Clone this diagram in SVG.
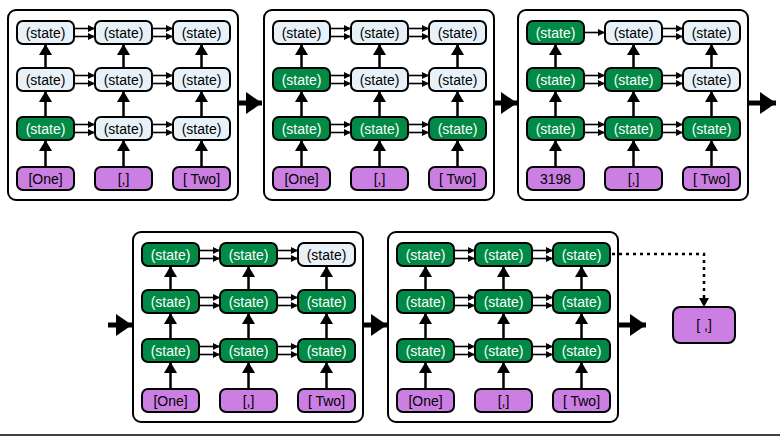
<svg xmlns="http://www.w3.org/2000/svg" width="780" height="436" viewBox="0 0 780 436">
<style>
.pn{fill:#fff;stroke:#000;stroke-width:2}
.n rect{stroke:#000;stroke-width:2}
.g rect{fill:#008a45}.l rect{fill:#e8f1f7}.p rect{fill:#cc7fe2}
.n text{font-family:"Liberation Sans",Arial,sans-serif;font-size:14px;text-anchor:middle}
.g text{fill:#fff}.l text,.p text{fill:#000}
.h{stroke:#000;stroke-width:1.6;fill:none;marker-end:url(#sh)}
.v{stroke:#000;stroke-width:2.5;fill:none;marker-end:url(#vh)}
.b{stroke:#000;stroke-width:5;fill:none;marker-end:url(#bh)}
</style>
<defs>
<marker id="sh" markerUnits="userSpaceOnUse" markerWidth="8" markerHeight="8" refX="7" refY="4" orient="auto"><path d="M0,0.5L7,4L0,7.5z" fill="#000"/></marker>
<marker id="vh" markerUnits="userSpaceOnUse" markerWidth="12" markerHeight="14" refX="11" refY="6.5" orient="auto"><path d="M0,0L11,6.5L0,13z" fill="#000"/></marker>
<marker id="bh" markerUnits="userSpaceOnUse" markerWidth="18" markerHeight="22" refX="16" refY="11" orient="auto"><path d="M0,0L16,11L0,22z" fill="#000"/></marker>
<g id="vv">
<path class="v" d="M37.5,157V130"/><path class="v" d="M115.5,157V130"/><path class="v" d="M193.5,157V130"/>
<path class="v" d="M37.5,107V81"/><path class="v" d="M115.5,107V81"/><path class="v" d="M193.5,107V81"/>
<path class="v" d="M37.5,58V34"/><path class="v" d="M115.5,58V34"/><path class="v" d="M193.5,58V34"/>
</g>
<g id="hl">
<path class="h" d="M144,18.5H165"/><path class="h" d="M144,26.5H165"/>
<path class="h" d="M66,65.5H87"/><path class="h" d="M66,73.5H87"/><path class="h" d="M144,65.5H165"/><path class="h" d="M144,73.5H165"/>
<path class="h" d="M66,114.5H87"/><path class="h" d="M66,122.5H87"/><path class="h" d="M144,114.5H165"/><path class="h" d="M144,122.5H165"/>
</g>
<g id="cn"><use href="#vv"/><use href="#hl"/><path class="h" d="M66,18.5H87"/><path class="h" d="M66,26.5H87"/></g>
<g id="cn3"><use href="#vv"/><use href="#hl"/><path class="h" d="M66,22.5H87"/></g>
</defs>
<rect class="pn" x="8" y="10" width="230" height="190" rx="8"/>
<rect class="pn" x="264" y="10" width="230" height="190" rx="8"/>
<rect class="pn" x="518" y="10" width="230" height="190" rx="8"/>
<rect class="pn" x="133" y="232" width="230" height="190" rx="8"/>
<rect class="pn" x="388" y="232" width="230" height="190" rx="8"/>
<g id="connectors">
<use href="#cn" transform="translate(8,10)"/>
<use href="#cn" transform="translate(264,10)"/>
<use href="#cn3" transform="translate(518,10)"/>
<use href="#cn" transform="translate(133,232)"/>
<use href="#cn" transform="translate(388,232)"/>
<path class="b" d="M238,103H262"/><path class="b" d="M494,103H517"/><path class="b" d="M748,103H776"/>
<path class="b" d="M108,325H132"/><path class="b" d="M363,325H387"/><path class="b" d="M618,325H646"/>
<path d="M612,254H704V303" fill="none" stroke="#000" stroke-width="2.5" stroke-dasharray="3,4"/>
<path d="M699,298L704,307L709,298z" fill="#000"/>
</g>
<g transform="translate(8,10)">
<g id="p1r1c1" class="n l"><rect x="9" y="11" width="57" height="23" rx="6"/><text x="37.5" y="27.5">(state)</text></g>
<g id="p1r1c2" class="n l"><rect x="87" y="11" width="57" height="23" rx="6"/><text x="115.5" y="27.5">(state)</text></g>
<g id="p1r1c3" class="n l"><rect x="165" y="11" width="57" height="23" rx="6"/><text x="193.5" y="27.5">(state)</text></g>
<g id="p1r2c1" class="n l"><rect x="9" y="58" width="57" height="23" rx="6"/><text x="37.5" y="74.5">(state)</text></g>
<g id="p1r2c2" class="n l"><rect x="87" y="58" width="57" height="23" rx="6"/><text x="115.5" y="74.5">(state)</text></g>
<g id="p1r2c3" class="n l"><rect x="165" y="58" width="57" height="23" rx="6"/><text x="193.5" y="74.5">(state)</text></g>
<g id="p1r3c1" class="n g"><rect x="9" y="107" width="57" height="23" rx="6"/><text x="37.5" y="123.5">(state)</text></g>
<g id="p1r3c2" class="n l"><rect x="87" y="107" width="57" height="23" rx="6"/><text x="115.5" y="123.5">(state)</text></g>
<g id="p1r3c3" class="n l"><rect x="165" y="107" width="57" height="23" rx="6"/><text x="193.5" y="123.5">(state)</text></g>
<g id="p1i1" class="n p"><rect x="9" y="157" width="57" height="23" rx="6"/><text x="37.5" y="173.5">[One]</text></g>
<g id="p1i2" class="n p"><rect x="87" y="157" width="57" height="23" rx="6"/><text x="115.5" y="173.5">[,]</text></g>
<g id="p1i3" class="n p"><rect x="165" y="157" width="57" height="23" rx="6"/><text x="193.5" y="173.5">[ Two]</text></g>
</g>
<g transform="translate(264,10)">
<g id="p2r1c1" class="n l"><rect x="9" y="11" width="57" height="23" rx="6"/><text x="37.5" y="27.5">(state)</text></g>
<g id="p2r1c2" class="n l"><rect x="87" y="11" width="57" height="23" rx="6"/><text x="115.5" y="27.5">(state)</text></g>
<g id="p2r1c3" class="n l"><rect x="165" y="11" width="57" height="23" rx="6"/><text x="193.5" y="27.5">(state)</text></g>
<g id="p2r2c1" class="n g"><rect x="9" y="58" width="57" height="23" rx="6"/><text x="37.5" y="74.5">(state)</text></g>
<g id="p2r2c2" class="n l"><rect x="87" y="58" width="57" height="23" rx="6"/><text x="115.5" y="74.5">(state)</text></g>
<g id="p2r2c3" class="n l"><rect x="165" y="58" width="57" height="23" rx="6"/><text x="193.5" y="74.5">(state)</text></g>
<g id="p2r3c1" class="n g"><rect x="9" y="107" width="57" height="23" rx="6"/><text x="37.5" y="123.5">(state)</text></g>
<g id="p2r3c2" class="n g"><rect x="87" y="107" width="57" height="23" rx="6"/><text x="115.5" y="123.5">(state)</text></g>
<g id="p2r3c3" class="n g"><rect x="165" y="107" width="57" height="23" rx="6"/><text x="193.5" y="123.5">(state)</text></g>
<g id="p2i1" class="n p"><rect x="9" y="157" width="57" height="23" rx="6"/><text x="37.5" y="173.5">[One]</text></g>
<g id="p2i2" class="n p"><rect x="87" y="157" width="57" height="23" rx="6"/><text x="115.5" y="173.5">[,]</text></g>
<g id="p2i3" class="n p"><rect x="165" y="157" width="57" height="23" rx="6"/><text x="193.5" y="173.5">[ Two]</text></g>
</g>
<g transform="translate(518,10)">
<g id="p3r1c1" class="n g"><rect x="9" y="11" width="57" height="23" rx="6"/><text x="37.5" y="27.5">(state)</text></g>
<g id="p3r1c2" class="n l"><rect x="87" y="11" width="57" height="23" rx="6"/><text x="115.5" y="27.5">(state)</text></g>
<g id="p3r1c3" class="n l"><rect x="165" y="11" width="57" height="23" rx="6"/><text x="193.5" y="27.5">(state)</text></g>
<g id="p3r2c1" class="n g"><rect x="9" y="58" width="57" height="23" rx="6"/><text x="37.5" y="74.5">(state)</text></g>
<g id="p3r2c2" class="n g"><rect x="87" y="58" width="57" height="23" rx="6"/><text x="115.5" y="74.5">(state)</text></g>
<g id="p3r2c3" class="n l"><rect x="165" y="58" width="57" height="23" rx="6"/><text x="193.5" y="74.5">(state)</text></g>
<g id="p3r3c1" class="n g"><rect x="9" y="107" width="57" height="23" rx="6"/><text x="37.5" y="123.5">(state)</text></g>
<g id="p3r3c2" class="n g"><rect x="87" y="107" width="57" height="23" rx="6"/><text x="115.5" y="123.5">(state)</text></g>
<g id="p3r3c3" class="n g"><rect x="165" y="107" width="57" height="23" rx="6"/><text x="193.5" y="123.5">(state)</text></g>
<g id="p3i1" class="n p"><rect x="9" y="157" width="57" height="23" rx="6"/><text x="37.5" y="173.5">3198</text></g>
<g id="p3i2" class="n p"><rect x="87" y="157" width="57" height="23" rx="6"/><text x="115.5" y="173.5">[,]</text></g>
<g id="p3i3" class="n p"><rect x="165" y="157" width="57" height="23" rx="6"/><text x="193.5" y="173.5">[ Two]</text></g>
</g>
<g transform="translate(133,232)">
<g id="p4r1c1" class="n g"><rect x="9" y="11" width="57" height="23" rx="6"/><text x="37.5" y="27.5">(state)</text></g>
<g id="p4r1c2" class="n g"><rect x="87" y="11" width="57" height="23" rx="6"/><text x="115.5" y="27.5">(state)</text></g>
<g id="p4r1c3" class="n l"><rect x="165" y="11" width="57" height="23" rx="6"/><text x="193.5" y="27.5">(state)</text></g>
<g id="p4r2c1" class="n g"><rect x="9" y="58" width="57" height="23" rx="6"/><text x="37.5" y="74.5">(state)</text></g>
<g id="p4r2c2" class="n g"><rect x="87" y="58" width="57" height="23" rx="6"/><text x="115.5" y="74.5">(state)</text></g>
<g id="p4r2c3" class="n g"><rect x="165" y="58" width="57" height="23" rx="6"/><text x="193.5" y="74.5">(state)</text></g>
<g id="p4r3c1" class="n g"><rect x="9" y="107" width="57" height="23" rx="6"/><text x="37.5" y="123.5">(state)</text></g>
<g id="p4r3c2" class="n g"><rect x="87" y="107" width="57" height="23" rx="6"/><text x="115.5" y="123.5">(state)</text></g>
<g id="p4r3c3" class="n g"><rect x="165" y="107" width="57" height="23" rx="6"/><text x="193.5" y="123.5">(state)</text></g>
<g id="p4i1" class="n p"><rect x="9" y="157" width="57" height="23" rx="6"/><text x="37.5" y="173.5">[One]</text></g>
<g id="p4i2" class="n p"><rect x="87" y="157" width="57" height="23" rx="6"/><text x="115.5" y="173.5">[,]</text></g>
<g id="p4i3" class="n p"><rect x="165" y="157" width="57" height="23" rx="6"/><text x="193.5" y="173.5">[ Two]</text></g>
</g>
<g transform="translate(388,232)">
<g id="p5r1c1" class="n g"><rect x="9" y="11" width="57" height="23" rx="6"/><text x="37.5" y="27.5">(state)</text></g>
<g id="p5r1c2" class="n g"><rect x="87" y="11" width="57" height="23" rx="6"/><text x="115.5" y="27.5">(state)</text></g>
<g id="p5r1c3" class="n g"><rect x="165" y="11" width="57" height="23" rx="6"/><text x="193.5" y="27.5">(state)</text></g>
<g id="p5r2c1" class="n g"><rect x="9" y="58" width="57" height="23" rx="6"/><text x="37.5" y="74.5">(state)</text></g>
<g id="p5r2c2" class="n g"><rect x="87" y="58" width="57" height="23" rx="6"/><text x="115.5" y="74.5">(state)</text></g>
<g id="p5r2c3" class="n g"><rect x="165" y="58" width="57" height="23" rx="6"/><text x="193.5" y="74.5">(state)</text></g>
<g id="p5r3c1" class="n g"><rect x="9" y="107" width="57" height="23" rx="6"/><text x="37.5" y="123.5">(state)</text></g>
<g id="p5r3c2" class="n g"><rect x="87" y="107" width="57" height="23" rx="6"/><text x="115.5" y="123.5">(state)</text></g>
<g id="p5r3c3" class="n g"><rect x="165" y="107" width="57" height="23" rx="6"/><text x="193.5" y="123.5">(state)</text></g>
<g id="p5i1" class="n p"><rect x="9" y="157" width="57" height="23" rx="6"/><text x="37.5" y="173.5">[One]</text></g>
<g id="p5i2" class="n p"><rect x="87" y="157" width="57" height="23" rx="6"/><text x="115.5" y="173.5">[,]</text></g>
<g id="p5i3" class="n p"><rect x="165" y="157" width="57" height="23" rx="6"/><text x="193.5" y="173.5">[ Two]</text></g>
</g>
<g id="out" class="n p"><rect x="673" y="307" width="62" height="36" rx="7"/><text x="704" y="330">[ ,]</text></g>
<line x1="0" y1="435" x2="780" y2="435" stroke="#000" stroke-width="1.5"/>
</svg>
